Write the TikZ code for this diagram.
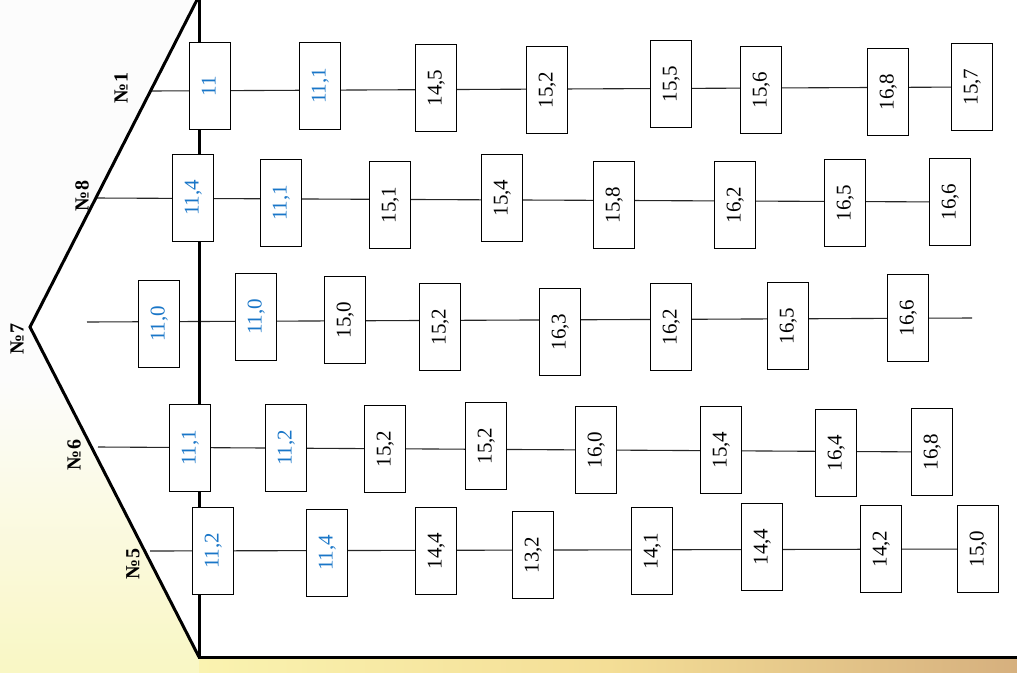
\documentclass[tikz,border=0pt]{standalone}
\usepackage{fontspec}
\setmainfont{Liberation Serif}
\pgfdeclarelayer{bg}
\pgfdeclarelayer{lines}
\pgfsetlayers{bg,lines,main}
\definecolor{numblue}{RGB}{25,118,200}
\definecolor{paleyel}{RGB}{249,247,196}
\definecolor{offwhite}{RGB}{252,252,252}
\definecolor{stripA}{RGB}{250,243,176}
\definecolor{stripB}{RGB}{244,222,150}
\definecolor{stripC}{RGB}{214,176,126}
\tikzset{
  valbox/.style={draw=black, line width=1.8pt, fill=white, rotate=90,
    minimum width=87pt, minimum height=41pt, inner sep=0pt,
    text height=14pt, text depth=3pt,
    font=\fontsize{21}{21}\selectfont},
  blueval/.style={valbox, text=numblue},
  rowline/.style={line width=1.1pt, draw=black!85},
  house/.style={line width=3pt, line join=miter},
  rowlabel/.style={rotate=90, font=\bfseries\fontsize{20}{20}\selectfont},
}
\begin{document}
\begin{tikzpicture}[x=1pt,y=-1pt]
\useasboundingbox (0,0) rectangle (1017,672);
\clip (0,0) rectangle (1017,672);

% row 1
\node[blueval] (r1a) at (210,86) {11};
\node[blueval] (r1b) at (320,86) {11,1};
\node[valbox] (r1c) at (436,88) {14,5};
\node[valbox] (r1d) at (547,90) {15,2};
\node[valbox] (r1e) at (671,84) {15,5};
\node[valbox] (r1f) at (761,90) {15,6};
\node[valbox] (r1g) at (888,92) {16,8};
\node[valbox] (r1h) at (972,87) {15,7};
% row 8
\node[blueval] (r8a) at (193,198) {11,4};
\node[blueval] (r8b) at (281,203) {11,1};
\node[valbox] (r8c) at (390,205) {15,1};
\node[valbox] (r8d) at (502,198) {15,4};
\node[valbox] (r8e) at (614,205) {15,8};
\node[valbox] (r8f) at (735,205) {16,2};
\node[valbox] (r8g) at (845,203) {16,5};
\node[valbox] (r8h) at (950,202) {16,6};
% row 7
\node[blueval] (r7a) at (159,324) {11,0};
\node[blueval] (r7b) at (256,317) {11,0};
\node[valbox] (r7c) at (345,320) {15,0};
\node[valbox] (r7d) at (440,327) {15,2};
\node[valbox] (r7e) at (560,332) {16,3};
\node[valbox] (r7f) at (671,327) {16,2};
\node[valbox] (r7g) at (788,326) {16,5};
\node[valbox] (r7h) at (908,318) {16,6};
% row 6
\node[blueval] (r6a) at (190,448) {11,1};
\node[blueval] (r6b) at (286,448) {11,2};
\node[valbox] (r6c) at (385,449) {15,2};
\node[valbox] (r6d) at (486,446) {15,2};
\node[valbox] (r6e) at (596,450) {16,0};
\node[valbox] (r6f) at (721,450) {15,4};
\node[valbox] (r6g) at (836,453) {16,4};
\node[valbox] (r6h) at (932,452) {16,8};
% row 5
\node[blueval] (r5a) at (213,551) {11,2};
\node[blueval] (r5b) at (327,553) {11,4};
\node[valbox] (r5c) at (436,551) {14,4};
\node[valbox] (r5d) at (533,555) {13,2};
\node[valbox] (r5e) at (652,551) {14,1};
\node[valbox] (r5f) at (762,547) {14,4};
\node[valbox] (r5g) at (881,549) {14,2};
\node[valbox] (r5h) at (978,549) {15,0};

% labels
\node[rowlabel] (l1) at (121,88) {№1};
\node[rowlabel] (l8) at (82,196) {№8};
\node[rowlabel] (l7) at (17,339) {№7};
\node[rowlabel] (l6) at (74,455) {№6};
\node[rowlabel] (l5) at (133,564) {№5};

% coordinates
\coordinate (top) at (199,-4);
\coordinate (apex) at (30,327);
\coordinate (corner) at (199,657);
\coordinate (br) at (1017,657);
\coordinate (r1s) at (151,91);
\coordinate (r8s) at (95,198);
\coordinate (r7s) at (87,322);
\coordinate (r7t) at (972,318);
\coordinate (r6s) at (98,447);
\coordinate (r5s) at (150,551);

\begin{pgfonlayer}{bg}
  \fill[offwhite] (0,0) rectangle (1017,672);
  \shade[top color=offwhite, bottom color=paleyel]
    (0,380) rectangle (1017,672);
  \fill[white] (199,-5) -- (apex) -- (corner) -- (br) -- (1017,-5) -- cycle;
  \shade[left color=stripA, right color=stripC, middle color=stripB]
    (199,657) rectangle (1017,672);
\end{pgfonlayer}

\begin{pgfonlayer}{lines}
  \draw[rowline] (r1s) -- (r1h.center);
  \draw[rowline] (r8s) -- (r8h.center);
  \draw[rowline] (r7s) -- (r7t);
  \draw[rowline] (r6s) -- (r6h.center);
  \draw[rowline] (r5s) -- (r5h.center);
  \draw[house] (top) -- (apex) -- (corner);
  \draw[house] (top) -- (corner) -- (br);
\end{pgfonlayer}
\end{tikzpicture}
\end{document}
